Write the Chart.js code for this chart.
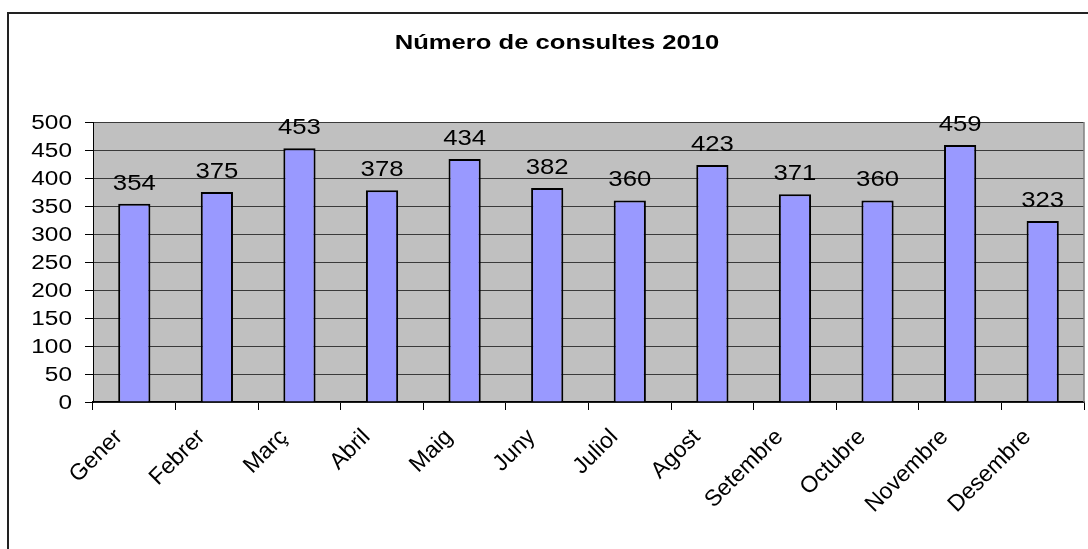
<!DOCTYPE html>
<html>
<head>
<meta charset="utf-8">
<script src="https://cdn.jsdelivr.net/npm/chart.js@4"></script>
<style>
  html, body { margin: 0; padding: 0; background: #fff; }
  #wrap { width: 1088px; height: 549px; position: relative; }
</style>
</head>
<body>
<div id="wrap"><canvas id="c"></canvas></div>
<script>
const chartTitle = 'Número de consultes 2010';
const categories = ['Gener','Febrer','Març','Abril','Maig','Juny','Juliol','Agost','Setembre','Octubre','Novembre','Desembre'];
const consultes = [354, 375, 453, 378, 434, 382, 360, 423, 371, 360, 459, 323];
const yTickValues = [0, 50, 100, 150, 200, 250, 300, 350, 400, 450, 500];

const FONT = '"Liberation Sans", Arial, sans-serif';
const STRETCH = 1.22;

function drawText(ctx, text, x, y, font, align, sx) {
  ctx.save();
  ctx.font = font;
  ctx.textAlign = align;
  ctx.textBaseline = 'alphabetic';
  ctx.fillStyle = '#000';
  ctx.translate(x, y);
  ctx.scale(sx, 1);
  ctx.fillText(text, 0, 0);
  ctx.restore();
}

const decor = {
  id: 'decor',
  beforeDraw(chart) {
    const ctx = chart.ctx, a = chart.chartArea;
    ctx.save();
    ctx.fillStyle = '#C0C0C0';
    ctx.fillRect(a.left, a.top, a.right - a.left, a.bottom - a.top);
    ctx.strokeStyle = '#222';
    ctx.lineWidth = 2;
    ctx.strokeRect(8, 13, 2000, 2000);
    ctx.restore();
  },
  afterDraw(chart) {
    const ctx = chart.ctx, a = chart.chartArea;
    ctx.save();
    ctx.strokeStyle = '#808080';
    ctx.lineWidth = 1.5;
    ctx.beginPath();
    ctx.moveTo(a.right, a.top);
    ctx.lineTo(a.right, a.bottom);
    ctx.stroke();
    ctx.restore();

    drawText(ctx, chartTitle, 557, 49, 'bold 21px ' + FONT, 'center', STRETCH);

    const ys = chart.scales.y;
    yTickValues.forEach(v => {
      const py = ys.getPixelForValue(v);
      drawText(ctx, String(v), 72, py + 7.2, '20px ' + FONT, 'right', STRETCH);
    });

    const xs = chart.scales.x;
    categories.forEach((c, i) => {
      const px = xs.getPixelForValue(i);
      ctx.save();
      ctx.font = '23px ' + FONT;
      ctx.fillStyle = '#000';
      ctx.textAlign = 'right';
      ctx.textBaseline = 'alphabetic';
      ctx.translate(px - 11, a.bottom + 36);
      ctx.rotate(-Math.PI / 4);
      ctx.fillText(c, 0, 0);
      ctx.restore();
    });

    const meta = chart.getDatasetMeta(0);
    meta.data.forEach((bar, i) => {
      drawText(ctx, String(consultes[i]), bar.x, bar.y - 14, '22px ' + FONT, 'center', 1.17);
    });
  }
};

new Chart(document.getElementById('c'), {
  type: 'bar',
  data: {
    labels: categories,
    datasets: [{
      data: consultes,
      backgroundColor: '#9999FF',
      borderColor: '#000',
      borderWidth: 2,
      barPercentage: 0.39,
      categoryPercentage: 1
    }]
  },
  options: {
    responsive: true,
    maintainAspectRatio: false,
    animation: false,
    devicePixelRatio: 1,
    layout: { padding: { top: 122, right: 4, left: 0, bottom: 0 } },
    plugins: { legend: { display: false }, title: { display: false }, tooltip: { enabled: false } },
    scales: {
      x: {
        type: 'category',
        offset: true,
        ticks: { display: false },
        grid: { offset: true, drawOnChartArea: false, drawTicks: true, tickLength: 8, color: '#000', lineWidth: 1 },
        border: { display: true, color: '#000', width: 1.5 },
        afterFit(scale) { scale.height = 147; }
      },
      y: {
        min: 0,
        max: 500,
        ticks: { display: false, stepSize: 50 },
        grid: { color: '#3a3a3a', lineWidth: 1, drawTicks: true, tickLength: 8, tickColor: '#000' },
        border: { display: true, color: '#000', width: 1 },
        afterFit(scale) { scale.width = 93; }
      }
    }
  },
  plugins: [decor]
});
</script>
</body>
</html>
